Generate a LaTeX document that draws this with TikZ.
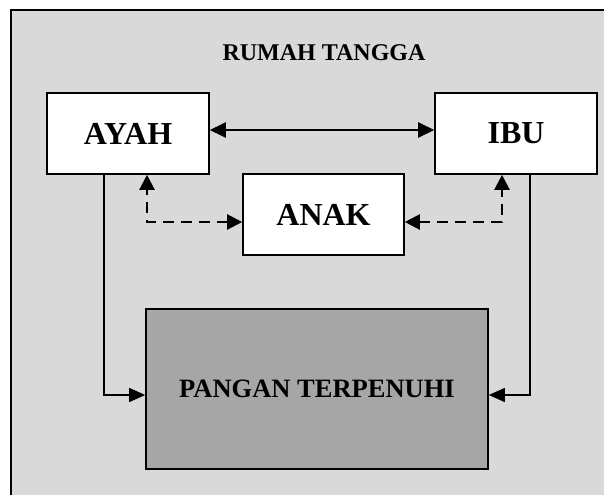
\documentclass[tikz,border=0pt]{standalone}
\usepackage{fontspec}
\setmainfont{Liberation Serif}
\usepackage{tikz}
\usetikzlibrary{arrows.meta}

\definecolor{rumahgray}{HTML}{D9D9D9}
\definecolor{pangangray}{HTML}{A6A6A6}

\begin{document}
\begin{tikzpicture}[x=1pt,y=-1pt,
	kotak/.style={draw, line width=1.6pt, fill=white, font=\bfseries\fontsize{32}{36}\selectfont},
	panah/.style={-{Triangle[length=16pt,width=14pt]}},
	putus/.style={{Triangle[length=15pt,width=15pt]}-{Triangle[length=15pt,width=15pt]}, line width=2.2pt, dash pattern=on 11pt off 7pt}]
	\useasboundingbox (0,0) rectangle (604,495);
	\fill[rumahgray] (11,10) rectangle (604,495);
	\draw[line width=1.5pt] (11,495) -- (11,10) -- (604,10);

	\node (T) at (324,53) {\bfseries\fontsize{24}{28}\selectfont RUMAH TANGGA};
	\node (A) [kotak, minimum width=162pt, minimum height=81pt] at (128,133.5) {AYAH};
	\node (B) [kotak, minimum width=162pt, minimum height=81pt] at (516,133.5) {IBU};
	\node (C) [kotak, minimum width=161pt, minimum height=81pt] at (323.5,214.5) {ANAK};
	\node (D) [kotak, fill=pangangray, minimum width=342pt, minimum height=160pt,
		font=\bfseries\fontsize{26.5}{30}\selectfont] at (317,389) {PANGAN TERPENUHI};

	\draw [{Triangle[length=16pt,width=15pt]}-{Triangle[length=16pt,width=15pt]}, line width=2.4pt]
		([yshift=3.5pt]A.east) to ([yshift=3.5pt]B.west);
	\draw [putus] ([yshift=-7.5pt]C.west) -| ([xshift=19pt]A.south);
	\draw [putus] ([yshift=-7.5pt]C.east) -| ([xshift=-14pt]B.south);
	\draw [panah, line width=1.3pt] ([xshift=-24pt]A.south) |- ([yshift=-6pt]D.west);
	\draw [panah, line width=1.3pt] ([xshift=14pt]B.south) |- ([yshift=-6pt]D.east);
\end{tikzpicture}
\end{document}
